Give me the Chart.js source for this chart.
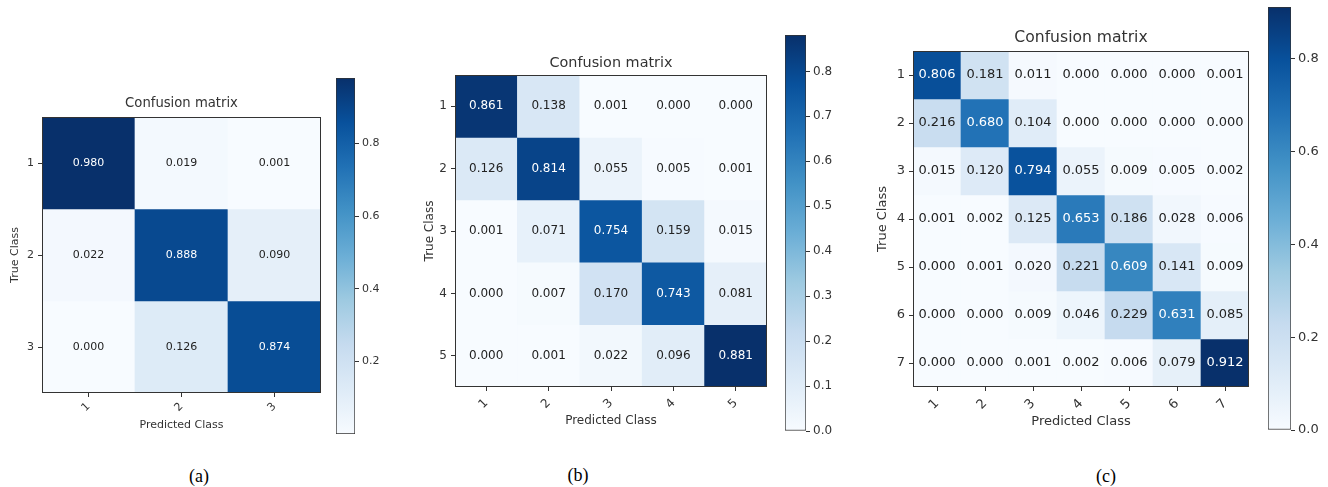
<!DOCTYPE html>
<html>
<head>
<meta charset="utf-8">
<script src="https://cdn.jsdelivr.net/npm/chart.js@4.4.1/dist/chart.umd.min.js"></script>
<style>
  html, body { margin: 0; padding: 0; background: #fff; }
  body { width: 1328px; height: 487px; position: relative; overflow: hidden; }
  .box { position: absolute; }
  .sub { position: absolute; font-family: "Liberation Serif", "Times New Roman", serif; font-size: 18px; color: #000; transform: translate(-50%, -50%); }
</style>
</head>
<body>
<div class="sub" style="left:199px; top:476px">(a)</div>
<div class="sub" style="left:578px; top:475px">(b)</div>
<div class="sub" style="left:1106px; top:476px">(c)</div>
<script>
// (a) 3 classes
const classesA = ['1', '2', '3'];
const matrixA = [
  [0.980, 0.019, 0.001],
  [0.022, 0.888, 0.090],
  [0.000, 0.126, 0.874]
];
const cbTicksA = [0.2, 0.4, 0.6, 0.8];

// (b) 5 classes
const classesB = ['1', '2', '3', '4', '5'];
const matrixB = [
  [0.861, 0.138, 0.001, 0.000, 0.000],
  [0.126, 0.814, 0.055, 0.005, 0.001],
  [0.001, 0.071, 0.754, 0.159, 0.015],
  [0.000, 0.007, 0.170, 0.743, 0.081],
  [0.000, 0.001, 0.022, 0.096, 0.881]
];
const cbTicksB = [0.0, 0.1, 0.2, 0.3, 0.4, 0.5, 0.6, 0.7, 0.8];

// (c) 7 classes
const classesC = ['1', '2', '3', '4', '5', '6', '7'];
const matrixC = [
  [0.806, 0.181, 0.011, 0.000, 0.000, 0.000, 0.001],
  [0.216, 0.680, 0.104, 0.000, 0.000, 0.000, 0.000],
  [0.015, 0.120, 0.794, 0.055, 0.009, 0.005, 0.002],
  [0.001, 0.002, 0.125, 0.653, 0.186, 0.028, 0.006],
  [0.000, 0.001, 0.020, 0.221, 0.609, 0.141, 0.009],
  [0.000, 0.000, 0.009, 0.046, 0.229, 0.631, 0.085],
  [0.000, 0.000, 0.001, 0.002, 0.006, 0.079, 0.912]
];
const cbTicksC = [0.0, 0.2, 0.4, 0.6, 0.8];

// matplotlib "Blues"
const blues = ['#f7fbff', '#deebf7', '#c6dbef', '#9ecae1', '#6baed6', '#4292c6', '#2171b5', '#08519c', '#08306b'];

const FONT = "'DejaVu Sans', sans-serif";
const INK = '#333';

function rgb(h) {
  return [1, 3, 5].map(i => parseInt(h.substr(i, 2), 16));
}

function bluesColor(t) {
  t = Math.max(0, Math.min(1, t));
  const p = t * 8;
  const i = Math.min(7, Math.floor(p));
  const f = p - i;
  const a = rgb(blues[i]), b = rgb(blues[i + 1]);
  const c = a.map((v, k) => Math.round(v + (b[k] - v) * f));
  return `rgb(${c[0]},${c[1]},${c[2]})`;
}

function addCanvas(left, top, width, height) {
  const div = document.createElement('div');
  div.className = 'box';
  div.style.left = left + 'px';
  div.style.top = top + 'px';
  const cv = document.createElement('canvas');
  cv.width = width;
  cv.height = height;
  div.appendChild(cv);
  document.body.appendChild(div);
  return cv;
}

// values inside the cells + frame round the matrix
const cellText = {
  id: 'cellText',
  afterDatasetsDraw(chart, args, opts) {
    const { ctx, chartArea } = chart;
    ctx.save();
    ctx.font = `${opts.size}px ${FONT}`;
    ctx.textAlign = 'center';
    ctx.textBaseline = 'middle';
    chart.data.datasets.forEach((ds, i) => {
      chart.getDatasetMeta(i).data.forEach((bar, j) => {
        const v = ds.values[j];
        ctx.fillStyle = v > opts.thresh ? '#fff' : '#222';
        ctx.fillText(v.toFixed(3), bar.x, (bar.y + bar.base) / 2);
      });
    });
    ctx.strokeStyle = INK;
    ctx.lineWidth = 1;
    ctx.strokeRect(Math.round(chartArea.left) + 0.5, Math.round(chartArea.top) + 0.5,
      Math.round(chartArea.width) - 1, Math.round(chartArea.height) - 1);
    ctx.restore();
  }
};

function drawPanel(spec) {
  const n = spec.classes.length;
  const all = spec.matrix.flat();
  const vmin = Math.min(...all), vmax = Math.max(...all);
  const fs = spec.fs, lh = fs * 1.2;
  const tfs = fs * 1.2, tlh = tfs * 1.2;
  const [L, T, R, B] = spec.box;

  const cl = Math.floor(spec.yTitleX - lh / 2 - 2);
  const ct = Math.floor(spec.titleY - tlh / 2 - 2);
  const cb = Math.ceil(spec.xTitleY + lh / 2 + 2);
  const cr = R + 3;

  const cv = addCanvas(cl, ct, cr - cl, cb - ct);
  new Chart(cv, {
    type: 'bar',
    data: {
      labels: spec.classes,
      datasets: spec.matrix.map((row, r) => ({
        data: row.map(() => [r + 0.5, r + 1.5]),
        values: row,
        backgroundColor: row.map(v => bluesColor((v - vmin) / (vmax - vmin))),
        borderWidth: 0,
        grouped: false,
        barPercentage: 1,
        categoryPercentage: 1
      }))
    },
    options: {
      responsive: false,
      animation: false,
      events: [],
      layout: { padding: { left: 0, right: 3, top: 0, bottom: 0 } },
      plugins: {
        legend: { display: false },
        tooltip: { enabled: false },
        title: {
          display: true,
          text: 'Confusion matrix',
          fullSize: false,
          color: INK,
          font: { family: FONT, size: tfs, weight: 'normal' },
          padding: { top: spec.titleY - ct - tlh / 2, bottom: T - spec.titleY - tlh / 2 }
        },
        cellText: { size: fs, thresh: vmax / 2 }
      },
      scales: {
        x: {
          type: 'category',
          offset: true,
          border: { display: false },
          grid: { display: true, offset: false, drawOnChartArea: false, tickLength: 4, color: INK },
          ticks: { color: INK, font: { family: FONT, size: fs }, minRotation: 45, maxRotation: 45, padding: spec.xPad },
          title: {
            display: true, text: 'Predicted Class', color: INK,
            font: { family: FONT, size: fs },
            padding: { top: 0, bottom: cb - spec.xTitleY - lh / 2 }
          },
          afterFit: s => { s.height = cb - B; }
        },
        y: {
          type: 'linear',
          min: 0.5,
          max: n + 0.5,
          reverse: true,
          afterBuildTicks: s => { s.ticks = spec.classes.map((c, i) => ({ value: i + 1 })); },
          border: { display: false },
          grid: { drawOnChartArea: false, tickLength: 4, color: INK },
          ticks: { color: INK, font: { family: FONT, size: fs }, padding: 4, callback: (v, i) => spec.classes[i] },
          title: {
            display: true, text: 'True Class', color: INK,
            font: { family: FONT, size: fs },
            padding: { top: spec.yTitleX - cl - lh / 2, bottom: 0 }
          },
          afterFit: s => { s.width = L - cl; }
        }
      }
    },
    plugins: [cellText]
  });

  // colorbar
  const [l, t, r, b] = spec.cbBox;
  const axisW = 40, pad = 12;
  const cv2 = addCanvas(l - 2, t - pad, r - l + 2 + axisW, b - t + 2 * pad);
  new Chart(cv2, {
    type: 'bar',
    data: {
      labels: [''],
      datasets: [{
        data: [[vmin, vmax]],
        backgroundColor: c => {
          const a = c.chart.chartArea;
          if (!a) return blues[0];
          const g = c.chart.ctx.createLinearGradient(0, a.bottom, 0, a.top);
          blues.forEach((col, i) => g.addColorStop(i / 8, col));
          return g;
        },
        borderColor: INK,
        borderWidth: 1,
        borderSkipped: false,
        barPercentage: 1,
        categoryPercentage: 1
      }]
    },
    options: {
      responsive: false,
      animation: false,
      events: [],
      layout: { padding: { left: 2, right: 0, top: pad, bottom: pad } },
      plugins: { legend: { display: false }, tooltip: { enabled: false } },
      scales: {
        x: { display: false },
        y: {
          position: 'right',
          min: vmin,
          max: vmax,
          afterBuildTicks: s => { s.ticks = spec.cbTicks.map(v => ({ value: v })); },
          border: { display: false },
          grid: { drawOnChartArea: false, tickLength: 4, color: INK },
          ticks: { color: INK, font: { family: FONT, size: fs }, padding: 3, callback: v => Number(v).toFixed(1) },
          afterFit: s => { s.width = axisW; }
        }
      }
    }
  });
}

drawPanel({ classes: classesA, matrix: matrixA, cbTicks: cbTicksA, fs: 11, xPad: 3,
  box: [42, 117, 321, 393], titleY: 104, yTitleX: 15, xTitleY: 425, cbBox: [336, 78, 355, 434] });
drawPanel({ classes: classesB, matrix: matrixB, cbTicks: cbTicksB, fs: 12, xPad: 5,
  box: [455, 75, 767, 387], titleY: 63, yTitleX: 430, xTitleY: 421, cbBox: [785, 35, 806, 431] });
drawPanel({ classes: classesC, matrix: matrixC, cbTicks: cbTicksC, fs: 13, xPad: 5,
  box: [913, 51, 1249, 387], titleY: 38, yTitleX: 883, xTitleY: 422, cbBox: [1268, 7, 1291, 430] });
</script>
</body>
</html>
